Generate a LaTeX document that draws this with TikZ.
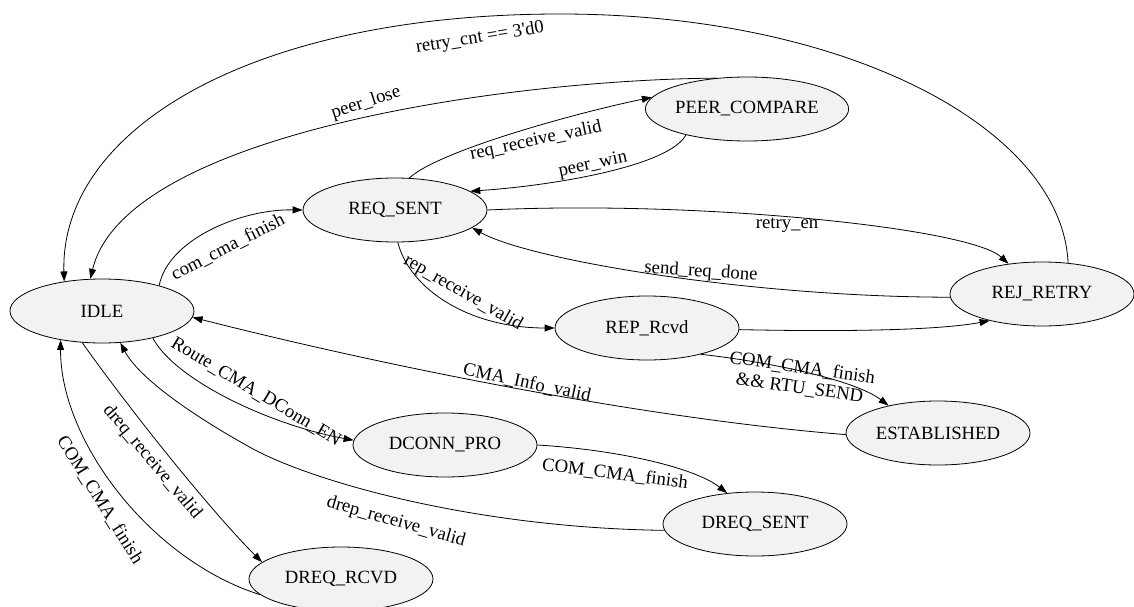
\documentclass[tikz,border=0pt]{standalone}
\usepackage{fontspec}
\setmainfont{Liberation Serif}
\usetikzlibrary{shapes.geometric,arrows.meta}
\definecolor{statefill}{RGB}{242,242,242}
\begin{document}
\begin{tikzpicture}[x=1pt,y=-1pt,
  state/.style={ellipse, draw=black, line width=0.8pt, fill=statefill,
    minimum width=184pt, minimum height=64pt, inner sep=0pt,
    font=\fontsize{18.7}{22}\selectfont},
  tr/.style={draw=black, line width=0.8pt, -{Triangle[length=10pt,width=7pt]}},
  lbl/.style={font=\fontsize{18.7}{20}\selectfont, inner sep=0pt, align=center}
]
\useasboundingbox (0,0) rectangle (1134,607);

% states
\node[state] (idle)     at (102,311)  {IDLE};
\node[state] (reqsent)  at (395,210)  {REQ\_SENT};
\node[state] (peer)     at (747,109)  {PEER\_COMPARE};
\node[state] (rejretry) at (1042,294) {REJ\_RETRY};
\node[state] (reprcvd)  at (647,328)  {REP\_Rcvd};
\node[state] (estab)    at (938,433)  {ESTABLISHED};
\node[state] (dconn)    at (445,445)  {DCONN\_PRO};
\node[state] (dreqsent) at (755,524)  {DREQ\_SENT};
\node[state] (dreqrcvd) at (341,579)  {DREQ\_RCVD};

% transitions
\draw[tr] (idle.24) .. controls (168,240) and (240,209) .. (reqsent.180);
\draw[tr] (reqsent.66) .. controls (440,150) and (580,112) .. (peer.173);
\draw[tr] (peer.203) .. controls (670,165) and (560,185) .. (reqsent.14);
\draw[tr] (peer.135) .. controls (500,80) and (125,135) .. (idle.110);
\draw[tr] (rejretry.50) .. controls (1062,130) and (850,14) .. (560,14)
          .. controls (250,14) and (60,130) .. (idle.142);
\draw[tr] (reqsent.0) .. controls (700,200) and (970,228) .. (rejretry.138);
\draw[tr] (rejretry.182) .. controls (750,297) and (530,260) .. (reqsent.347);
\draw[tr] (reqsent.275) .. controls (410,290) and (470,328) .. (reprcvd.180);
\draw[tr] (reprcvd.359) .. controls (850,332) and (940,330) .. (rejretry.207);
\draw[tr] (reprcvd.334) .. controls (770,362) and (855,380) .. (estab.151);
\draw[tr] (estab.181) .. controls (640,418) and (380,365) .. (idle.356);
\draw[tr] (idle.332) .. controls (175,380) and (270,425) .. (dconn.177);
\draw[tr] (dconn.0) .. controls (620,450) and (695,468) .. (dreqsent.132);
\draw[tr] (dreqsent.184) .. controls (480,528) and (320,484) .. (255,450)
          .. controls (200,420) and (140,380) .. (idle.300);
\draw[tr] (idle.238) .. controls (130,410) and (210,510) .. (dreqrcvd.168);
\draw[tr] (dreqrcvd.191) .. controls (150,560) and (60,440) .. (idle.215);

% transition labels
\node[lbl, rotate=27]  (l1)  at (228,247) {com\_cma\_finish};
\node[lbl, rotate=12]  (l2)  at (536,141) {req\_receive\_valid};
\node[lbl, rotate=12]  (l3)  at (593,165) {peer\_win};
\node[lbl, rotate=18]  (l4)  at (366,103) {peer\_lose};
\node[lbl, rotate=9]   (l5)  at (480,38)  {retry\_cnt == 3\textquotesingle d0};
\node[lbl]             (l6)  at (787,225) {retry\_en};
\node[lbl, rotate=-4]  (l7)  at (701,272) {send\_req\_done};
\node[lbl, rotate=-30] (l8)  at (463,293) {rep\_receive\_valid};
\node[lbl, rotate=-8]  (l10) at (801,378) {COM\_CMA\_finish\\\&\& RTU\_SEND};
\node[lbl, rotate=-12] (l11) at (527,383) {CMA\_Info\_valid};
\node[lbl, rotate=-31] (l12) at (256,392) {Route\_CMA\_DConn\_EN};
\node[lbl, rotate=-7]  (l13) at (615,474) {COM\_CMA\_finish};
\node[lbl, rotate=-16] (l14) at (396,522) {drep\_receive\_valid};
\node[lbl, rotate=-50] (l15) at (152,462) {dreq\_receive\_valid};
\node[lbl, rotate=-58] (l16) at (100,500) {COM\_CMA\_finish};
\end{tikzpicture}
\end{document}
